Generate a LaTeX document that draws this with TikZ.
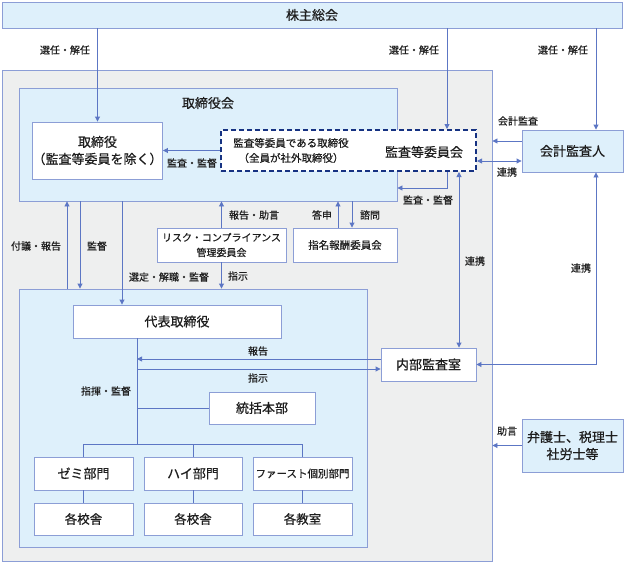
\documentclass[tikz,border=0pt]{standalone}
\usepackage{fontspec}
\setmainfont{Noto Sans CJK JP}[FakeBold=0.6]
\usepackage{tikz}
\usetikzlibrary{positioning, arrows.meta}
\definecolor{linecolor}{RGB}{92,118,196}
\definecolor{framecolor}{RGB}{140,158,214}
\definecolor{palecolor}{RGB}{222,240,251}
\definecolor{greycolor}{RGB}{238,239,239}
\definecolor{navycolor}{RGB}{22,50,130}
\definecolor{textcolor}{RGB}{30,30,30}

\begin{document}
\begin{tikzpicture}[
    x=1pt, y=-1pt,
    box/.style={
        rectangle,
        draw=framecolor,
        fill=white,
        line width=0.9pt,
        inner sep=0pt,
        align=center,
        text=textcolor,
        font=\fontsize{13}{17}\selectfont
    },
    bluebox/.style={box, fill=palecolor},
    area/.style={
        rectangle,
        draw=framecolor,
        line width=0.9pt,
        inner sep=0pt
    },
    tag/.style={
        inner sep=1pt,
        text=textcolor,
        font=\fontsize{10}{12}\selectfont
    },
    arrow/.style={
        -{Triangle[length=5pt,width=5pt]},
        line width=0.9pt,
        color=linecolor
    },
    twoway/.style={
        {Triangle[length=5pt,width=5pt]}-{Triangle[length=5pt,width=5pt]},
        line width=0.9pt,
        color=linecolor
    },
    link/.style={
        line width=0.9pt,
        color=linecolor
    }
]
\useasboundingbox (0,0) rectangle (624,562);

% Columns and rows for connectors
\coordinate (colA) at (447,0);
\coordinate (colB) at (459,0);
\coordinate (colR) at (596,0);
\coordinate (colT) at (137,0);
\coordinate (colU) at (67,0);
\coordinate (colD) at (80,0);
\coordinate (colS) at (122,0);
\coordinate (colK) at (338,0);
\coordinate (colM) at (352,0);
\coordinate (rowKA) at (0,141);
\coordinate (rowRE) at (0,161);
\coordinate (rowKS) at (0,188);
\coordinate (rowHO) at (0,359);
\coordinate (rowSH) at (0,369);
\coordinate (rowTK) at (0,444);

% Shareholders meeting
\node[bluebox, minimum width=620pt, minimum height=26pt] (soukai) at (312,15) {株主総会};

% Company group area
\node[area, fill=greycolor, minimum width=490pt, minimum height=491pt] (gaibu) at (247,315.5) {};

% Board of directors area
\node[area, fill=palecolor, minimum width=378pt, minimum height=113pt] (board) at (208,144.5) {};
\node[tag, font=\fontsize{13}{16}\selectfont] (boardtitle) at (208,103) {取締役会};

% Directors
\node[box, minimum width=129pt, minimum height=57pt] (director) at (97.5,150.5) {取締役\\（監査等委員を除く）};

% Audit and supervisory committee
\node[box, draw=navycolor, line width=2pt, dash pattern=on 5pt off 3pt,
      minimum width=255pt, minimum height=41pt] (audit) at (348.5,150.5) {};
\node[tag, align=center, font=\fontsize{10.5}{15}\selectfont] (auditmember) at (291,150.5) {監査等委員である取締役\\（全員が社外取締役）};
\node[tag, font=\fontsize{13}{16}\selectfont] (auditname) at (424,152) {監査等委員会};

% Accounting auditor
\node[bluebox, minimum width=101pt, minimum height=42pt] (kaikei) at (572.5,151) {会計監査人};

% Committees
\node[box, minimum width=129pt, minimum height=34pt, font=\fontsize{10}{15}\selectfont] (risk) at (221.5,245) {リスク・コンプライアンス\\管理委員会};
\node[box, minimum width=104pt, minimum height=34pt, font=\fontsize{10.5}{13}\selectfont] (nomination) at (345,245) {指名報酬委員会};

% Executive area
\node[area, fill=palecolor, minimum width=348pt, minimum height=258pt] (exec) at (193,418) {};
\node[box, minimum width=208pt, minimum height=33pt] (rep) at (177,321.5) {代表取締役};
\node[box, minimum width=106pt, minimum height=32pt] (tokatsu) at (262,408) {統括本部};

% Divisions
\node[box, minimum width=99pt, minimum height=33pt] (zemi) at (83.5,473.5) {ゼミ部門};
\node[box, minimum width=98pt, minimum height=33pt] (hai) at (193,473.5) {ハイ部門};
\node[box, minimum width=99pt, minimum height=33pt, font=\fontsize{10.5}{13}\selectfont] (first) at (302.5,473.5) {ファースト個別部門};
\node[box, minimum width=99pt, minimum height=32pt, font=\fontsize{12.5}{15}\selectfont] (kosha1) at (83.5,519) {各校舎};
\node[box, minimum width=98pt, minimum height=32pt, font=\fontsize{12.5}{15}\selectfont] (kosha2) at (193,519) {各校舎};
\node[box, minimum width=99pt, minimum height=32pt, font=\fontsize{12.5}{15}\selectfont] (kyoshitsu) at (302.5,519) {各教室};

% Internal audit office
\node[box, minimum width=95pt, minimum height=33pt] (naibu) at (428.5,364.5) {内部監査室};

% Outside experts
\node[bluebox, minimum width=101pt, minimum height=53pt] (lawyer) at (572.5,445.5) {弁護士、税理士\\社労士等};

% Arrows from shareholders meeting
\draw[arrow] (soukai.south -| director) -- (director.north);
\draw[arrow] (soukai.south -| colA) -- (audit.north -| colA);
\draw[arrow] (soukai.south -| colR) -- (kaikei.north -| colR);
\node[tag] (sel1) at (65,50) {選任・解任};
\node[tag] (sel2) at (414,50) {選任・解任};
\node[tag] (sel3) at (563,50) {選任・解任};

% Audit committee connectors
\draw[arrow] (audit.west) -- (director.east);
\node[tag] (kansa1) at (192,163) {監査・監督};
\draw[arrow] (audit.south -| colA) |- (board.east |- rowKS);
\node[tag] (kansa2) at (428,200) {監査・監督};
\draw[twoway] (audit.east |- rowRE) -- (kaikei.west |- rowRE);
\node[tag] (renkei1) at (507,172) {連携};
\draw[twoway] (audit.south -| colB) -- (naibu.north -| colB);
\node[tag] (renkei2) at (475,261) {連携};

% Accounting auditor connectors
\draw[arrow] (kaikei.west |- rowKA) -- (gaibu.east |- rowKA);
\node[tag] (kaikeikansa) at (518,121) {会計監査};
\draw[twoway] (kaikei.south -| colR) |- (naibu.east);
\node[tag] (renkei3) at (581,268) {連携};

% Board and executive
\draw[arrow] (exec.north -| colU) -- (board.south -| colU);
\node[tag] (fugi) at (36,246) {付議・報告};
\draw[arrow] (board.south -| colD) -- (exec.north -| colD);
\node[tag] (kantoku) at (97,246) {監督};
\draw[arrow] (board.south -| colS) -- (rep.north -| colS);
\node[tag] (sentei) at (169,277) {選定・解職・監督};

% Committee connectors
\draw[arrow] (risk.north) -- (board.south -| risk);
\node[tag] (hokoku1) at (254,215) {報告・助言};
\draw[arrow] (risk.south) -- (exec.north -| risk);
\node[tag] (shiji1) at (238,276) {指示};
\draw[arrow] (nomination.north -| colK) -- (board.south -| colK);
\node[tag] (toshin) at (322,215) {答申};
\draw[arrow] (board.south -| colM) -- (nomination.north -| colM);
\node[tag] (shimon) at (370,215) {諮問};

% Internal audit and representative
\draw[arrow] (naibu.west |- rowHO) -- (colT |- rowHO);
\node[tag] (hokoku2) at (258,351) {報告};
\draw[arrow] (colT |- rowSH) -- (naibu.west |- rowSH);
\node[tag] (shiji2) at (258,378) {指示};

% Organisation tree
\draw[link] (rep.south -| colT) -- (colT |- rowTK);
\draw[link] (colT |- tokatsu.west) -- (tokatsu.west);
\node[tag] (shiki) at (106,391) {指揮・監督};
\draw[link] (zemi.north) -- (zemi |- rowTK) -- (first |- rowTK) -- (first.north);
\draw[link] (hai |- rowTK) -- (hai.north);
\draw[link] (zemi.south) -- (kosha1.north);
\draw[link] (hai.south) -- (kosha2.north);
\draw[link] (first.south) -- (kyoshitsu.north);

% Outside advice
\draw[arrow] (lawyer.west) -- (gaibu.east |- lawyer.west);
\node[tag] (jogen) at (507,431) {助言};

\end{tikzpicture}
\end{document}
